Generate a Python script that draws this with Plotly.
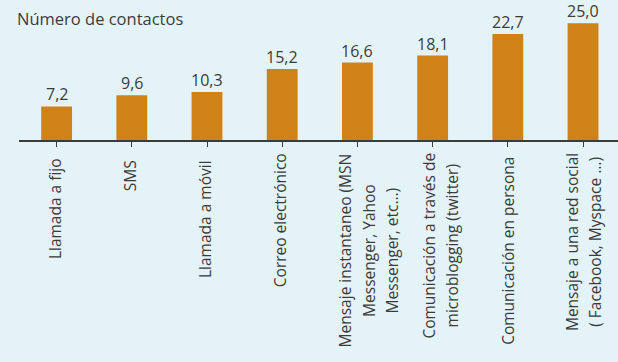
import plotly.graph_objects as go

# Number of contacts by communication channel
categories = [
    "Llamada a fijo",
    "SMS",
    "Llamada a móvil",
    "Correo electrónico",
    "Mensaje instantaneo (MSN<br>Messenger, Yahoo<br>Messenger, etc...)",
    "Comunicación a través de<br>microblogging (twitter)",
    "Comunicación en persona",
    "Mensaje a una red social<br>( Facebook, Myspace ...)",
]
values = [7.2, 9.6, 10.3, 15.2, 16.6, 18.1, 22.7, 25.0]
title_text = "Número de contactos"

BG = "#E4F3F8"
BAR = "#CF8218"
INK = "#3B3B3B"
FONT = "Open Sans"

# pixel nudges (x, y) for the rotated category labels
label_dx = [-2, -2, -2, -2, 11, 7, 0, 0]
label_dy = [-5, -7, -7, 0, 0, 0, -4, 0]

xs = list(range(len(categories)))

fig = go.Figure(
    go.Bar(
        x=xs,
        y=values,
        width=0.41,
        marker=dict(color=BAR, line=dict(width=0)),
        cliponaxis=False,
        hoverinfo="skip",
    )
)

# value labels above the bars
annotations = [
    dict(
        text=f"{v:.1f}".replace(".", ","),
        x=x, y=v, xref="x", yref="y",
        xanchor="center", yanchor="bottom",
        yshift=0, borderpad=0,
        showarrow=False,
        font=dict(family=FONT, size=16, color=INK),
    )
    for x, v in zip(xs, values)
]

annotations.append(
    dict(
        text=title_text,
        xref="paper", yref="paper",
        x=-0.007, y=1.035,
        xanchor="left", yanchor="top",
        showarrow=False,
        font=dict(family=FONT, size=16.5, color=INK),
    )
)

for i, lab in enumerate(categories):
    # wider line pitch: base size sets the spacing, inner span sets glyph size
    body = "<br>".join(
        f"<span style='font-size:15.5px'>{ln}</span>" for ln in lab.split("<br>")
    )
    annotations.append(
        dict(
            text=body,
            x=i, xref="x",
            y=0, yref="paper",
            xanchor="center", yanchor="top",
            yshift=-11 + label_dy[i],
            xshift=label_dx[i],
            textangle=-90,
            align="center",
            showarrow=False,
            font=dict(family=FONT, size=18, color=INK),
        )
    )

fig.update_layout(
    width=618,
    height=362,
    margin=dict(l=19, r=0, t=10, b=222),
    paper_bgcolor=BG,
    plot_bgcolor=BG,
    showlegend=False,
    annotations=annotations,
    xaxis=dict(
        range=[-0.5, 7.465],
        showticklabels=False,
        tickmode="array",
        tickvals=xs,
        tickson="boundaries",
        ticks="outside",
        ticklen=5,
        tickwidth=1.2,
        tickcolor=INK,
        showline=True,
        linecolor=INK,
        linewidth=1.6,
        showgrid=False,
        zeroline=False,
    ),
    yaxis=dict(
        range=[0, 27.85],
        visible=False,
        showgrid=False,
        zeroline=False,
    ),
)

fig.write_html("out.html")
